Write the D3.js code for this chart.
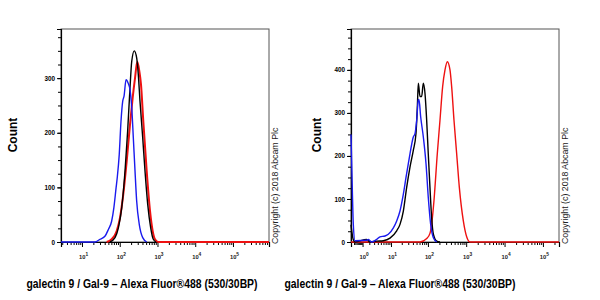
<!DOCTYPE html>
<html>
<head>
<meta charset="utf-8">
<script src="https://cdn.jsdelivr.net/npm/d3@7/dist/d3.min.js"></script>
<style>
  body { margin: 0; background: #fff; }
  svg { display: block; }
  text { font-family: "Liberation Sans", Arial, sans-serif; }
</style>
</head>
<body>
<svg id="chart" width="600" height="300"></svg>
<script>
// Histogram data: [fluorescence intensity, count]
const leftBlack = [[55,0],[75,8],[92,26],[113,63],[138,130],[162,203],[187,282],[208,331],[243,350],[281,337],[310,307],[344,258],[406,191],[467,130],[551,69],[661,26],[775,5],[914,0]];
const leftRed = [[45,0],[61,5],[83,20],[102,45],[124,87],[153,148],[187,215],[220,264],[254,300],[292,330],[330,313],[366,288],[421,221],[518,130],[634,57],[747,20],[859,5],[1050,0]];
const leftBlue = [[13,0],[22,0],[30,5],[41,11],[50,23],[61,38],[70,63],[80,99],[86,118],[97,160],[108,221],[120,258],[130,267],[147,297],[169,290],[187,279],[208,246],[229,191],[254,130],[281,75],[330,32],[406,8],[518,0]];

const rightRed = [[0,0],[62,0],[93,8],[113,20],[125,41],[144,96],[176,205],[207,283],[243,361],[280,400],[322,419],[378,400],[418,361],[481,283],[565,205],[663,127],[843,49],[1030,12],[1258,0]];
const rightBlack = [[0,40],[0.15,5],[0.27,0],[1.56,6],[2.13,0],[3.66,2],[5.95,3],[9.37,9],[14.5,26],[17.9,41],[22.1,72],[27.2,127],[33.4,174],[41,213],[48.3,252],[52.5,314],[55.7,369],[61.7,338],[68.3,338],[75.6,369],[83.7,345],[92.6,283],[102,205],[113,127],[125,57],[139,18],[170,2],[207,0]];
const rightBlue = [[0,250],[0.04,190],[0.15,40],[0.27,3],[1.56,4],[1.83,6],[2.13,3],[2.45,0],[3.66,6],[4.69,12],[6.69,14],[8.38,18],[11.7,33],[14.5,49],[17.9,72],[22.1,111],[26.1,150],[30.1,182],[33.4,205],[41,244],[45.5,252],[50.4,283],[55.7,330],[58,331],[64.3,291],[75.6,244],[89,182],[102,104],[118,41],[139,10],[170,0]];

const leftYMajor = [0, 100, 200, 300];
const rightYMajor = [0, 100, 200, 300, 400];
const leftDecades = [1, 2, 3, 4, 5];
const rightDecades = [0, 1, 2, 3, 4, 5];

const titleText = "galectin 9 / Gal-9 \u2013 Alexa Fluor\u00AE488 (530/30BP)";
const copyText = "Copyright (c) 2018 Abcam Plc";

const svg = d3.select("#chart");
const plotTop = 29, plotBottom = 242;

function minorTicks(dom) {
  const out = [];
  for (let k = -1; k <= 6; k++) {
    for (let m = 2; m <= 9; m++) {
      const v = m * Math.pow(10, k);
      if (v >= dom[0] && v <= dom[1]) out.push(v);
    }
  }
  return out;
}

function drawPanel(p) {
  const x = p.xScale.range([p.x0, p.x1]);
  const y = d3.scaleLinear().domain([0, p.yMax]).range([plotBottom, plotTop]);
  const g = svg.append("g");

  // plot frame
  g.append("rect")
    .attr("x", p.x0).attr("y", plotTop)
    .attr("width", p.x1 - p.x0).attr("height", plotBottom - plotTop)
    .attr("fill", "none").attr("stroke", "#555").attr("stroke-width", 1);

  // y axis (major + minor every 25)
  const yMinor = d3.range(0, p.yMax, 25);
  g.append("g").attr("transform", `translate(${p.x0},0)`)
    .call(d3.axisLeft(y).tickValues(yMinor).tickSize(3).tickFormat(""))
    .call(a => a.select(".domain").remove());
  const yAx = g.append("g").attr("transform", `translate(${p.x0},0)`)
    .call(d3.axisLeft(y).tickValues(p.yMajor).tickSize(4).tickPadding(2).tickFormat(d3.format("d")));
  yAx.select(".domain").attr("stroke", "#000").attr("stroke-width", 1.2);
  yAx.selectAll("text").attr("font-size", 6.3).attr("font-weight", "bold")
    .style("font-family", "'Liberation Sans', Arial, sans-serif");

  // x axis (decades + minor)
  const dom = x.domain();
  g.append("g").attr("transform", `translate(0,${plotBottom})`)
    .call(d3.axisBottom(x).tickValues(minorTicks(dom)).tickSize(3).tickFormat(""))
    .call(a => a.select(".domain").remove());
  const xAx = g.append("g").attr("transform", `translate(0,${plotBottom})`)
    .call(d3.axisBottom(x).tickValues(p.decades.map(d => Math.pow(10, d))).tickSize(5).tickFormat(""));
  xAx.select(".domain").attr("stroke", "#000").attr("stroke-width", 1.2);

  const lbl = g.append("g").selectAll("text").data(p.decades).join("text")
    .attr("x", d => x(Math.pow(10, d)) + 1.5)
    .attr("y", 259)
    .attr("text-anchor", "middle")
    .attr("font-size", 5.8)
    .attr("font-weight", "bold")
    .attr("fill", "#222");
  lbl.append("tspan").text("10");
  lbl.append("tspan").attr("dy", -3).attr("font-size", 4.8).text(d => d);

  // histograms
  const line = d3.line()
    .x(d => x(d[0])).y(d => y(d[1]))
    .curve(d3.curveMonotoneX);
  p.series.forEach(s => {
    g.append("path").datum(s.data)
      .attr("d", line)
      .attr("fill", "none")
      .attr("stroke", s.color)
      .attr("stroke-width", s.width)
      .attr("stroke-linejoin", "round");
  });

  // axis title
  g.append("text")
    .attr("transform", `translate(${p.countX},135) rotate(-90)`)
    .attr("text-anchor", "middle").attr("dominant-baseline", "middle")
    .attr("font-size", 12).attr("font-weight", "bold")
    .text("Count");

  // copyright
  g.append("text")
    .attr("transform", `translate(${p.x1 + 8.5},244) rotate(-90)`)
    .attr("font-size", 8.8).attr("fill", "#222")
    .text(copyText);

  // x title
  g.append("text")
    .attr("x", p.titleX).attr("y", 288)
    .attr("text-anchor", "middle")
    .attr("font-size", 12.5).attr("font-weight", "bold")
    .attr("textLength", 231).attr("lengthAdjust", "spacingAndGlyphs")
    .text(titleText);
}

const leftDom = [2.78, 900000];
drawPanel({
  x0: 61, x1: 269,
  xScale: d3.scaleLog().domain(leftDom),
  yMax: 390,
  yMajor: leftYMajor,
  decades: leftDecades,
  countX: 14,
  titleX: 142,
  series: [
    { data: [...leftRed, [leftDom[1], 0]], color: "#ee1111", width: 2 },
    { data: leftBlack, color: "#000", width: 1.4 },
    { data: [[leftDom[0], 0], ...leftBlue], color: "#1a1aee", width: 1.4 }
  ]
});

const rightDom = [0, 262144];
drawPanel({
  x0: 351, x1: 559,
  xScale: d3.scaleSymlog().constant(1).domain(rightDom),
  yMax: 495,
  yMajor: rightYMajor,
  decades: rightDecades,
  countX: 318,
  titleX: 400,
  series: [
    { data: [...rightRed, [rightDom[1], 0]], color: "#ee1111", width: 1.4 },
    { data: rightBlack, color: "#000", width: 1.4 },
    { data: rightBlue, color: "#1a1aee", width: 1.4 }
  ]
});
</script>
</body>
</html>
